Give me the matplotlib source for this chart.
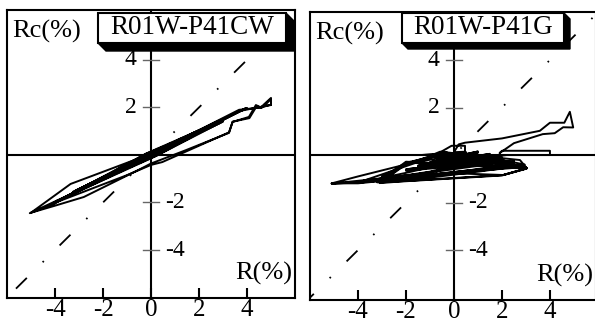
import matplotlib
matplotlib.use("Agg")
import matplotlib.pyplot as plt
from matplotlib.patches import Polygon, Rectangle

plt.rcParams['font.family'] = ['Liberation Serif', 'DejaVu Serif']
plt.rcParams['lines.scale_dashes'] = False

# specimen titles
titles = ["R01W-P41CW", "R01W-P41G"]
x_ticks = [-4, -2, 0, 2, 4]
y_ticks = [-4, -2, 2, 4]

# R01W-P41CW: drift R (%) vs Rc (%)
r_cw = [0.0, 0.5, -0.5, 0.5, -0.5, 1.0, 0.1, -1.0, -0.1, 1.0, -1.0,
        1.5, 0.1, -1.5, -0.1, 1.5, -1.5, 2.0, 0.1, -2.0, -0.1, 2.0, -2.0,
        2.5, 0.15, -2.6, -0.15, 2.7, -2.8, 3.0, 0.2, -3.1, -0.2, 3.0, -3.2,
        2.95, 0.1, -3.3, -0.1, 3.0, -3.25, 2.9, 0.2, -3.3, -0.2, 3.0, -3.1,
        2.95, -3.3, 3.0, -3.2, 3.95, 0.2, -4.05, -0.2, 3.92, -4.1, 4.0,
        0.1, -3.3, -4.02, -3.9, -4.1, -1.0, 0.0, 0.47, 3.25, 3.4, 4.1, 4.4,
        4.6, 4.75, 5.0, 5.0, 4.7, 3.7, 0.0, -2.45, -3.35, -5.0, -4.05, -2.8,
        -0.5, 0.0, 0.47, 1.45, 3.25, 3.4, 4.08, 4.37, 4.58, 4.7, 5.0, 5.0,
        4.6, 3.67, 0.0, -3.2, -5.05, -4.1, -3.4, -2.0, 0.0, 2.5, 2.8, 0.1,
        -3.0, -3.1, -0.1, 2.9, 2.0, 0.0]
rc_cw = [0.0, 0.25, -0.25, 0.24, -0.26, 0.5, 0.01, -0.5, -0.01, 0.48,
         -0.52, 0.74, 0.0, -0.74, -0.02, 0.72, -0.76, 0.98, -0.01, -0.98,
         0.0, 0.96, -1.0, 1.2, 0.0, -1.28, -0.02, 1.32, -1.36, 1.46, -0.04,
         -1.5, 0.05, 1.4, -1.58, 1.45, -0.06, -1.62, 0.05, 1.5, -1.55, 1.36,
         -0.05, -1.66, 0.06, 1.48, -1.48, 1.40, -1.62, 1.46, -1.54, 1.97, 0.0,
         -2.02, 0.0, 1.95, -2.05, 1.98, 0.02, -1.62, -2.0, -1.92, -2.05,
         -0.85, -0.42, -0.3, 0.95, 1.4, 1.55, 2.05, 1.98, 2.1, 2.35, 2.1,
         2.05, 1.85, 0.05, -0.88, -1.22, -2.43, -2.15, -1.77, -0.62, -0.36,
         -0.18, 0.2, 0.93, 1.39, 1.6, 2.1, 2.0, 2.12, 2.4, 2.12, 2.0, 1.9,
         0.02, -1.58, -2.45, -2.1, -1.68, -1.0, 0.0, 1.2, 1.36, -0.03, -1.48,
         -1.5, 0.03, 1.4, 0.95, 0.0]

# R01W-P41G: drift R (%) vs Rc (%)
r_g = [0.0, 0.5, -0.5, 0.5, -0.5, 1.0, -1.0, 1.0, -1.0, 1.5, -1.5, 1.5,
       -1.5, 2.0, -2.0, 2.0, -2.0, 2.5, -2.6, 3.0, 2.6, -1.9, -3.05, -2.2,
       2.05, 3.05, 2.6, -1.95, -3.1, -2.3, 2.0, 3.0, 2.5, -2.0, -3.1, -4.0,
       -5.1, -4.05, 0.1, 2.05, 3.04, 2.75, -0.58, -1.4, -2.1, -4.0, -5.05,
       -4.0, -0.3, -0.6, -0.1, 0.46, 0.46, 0.0, 0.2, 0.46, 2.0, 3.58, 4.0,
       4.6, 4.83, 4.97, 4.55, 4.2, 3.7, 2.5, 1.9, 2.0, 4.0, 4.0, 2.2, 1.4,
       -0.5, -2.0, -3.2, -5.1, -4.0, -1.0, 0.0, 1.5, 2.8, 1.0, -1.2, -3.0,
       -3.1, -1.5, 0.5, 2.0, 2.9, 2.4, -0.4, -2.0, -2.2, -3.0, -3.1, -1.0,
       1.0, 2.6, 3.0, 1.8, -0.8, -1.9, -2.1, -2.9, -3.2, -2.0, 0.2, 2.2,
       2.95, 2.2, -0.2, -1.3, -2.05, -2.8, -3.0, -1.5, 0.8, 2.5, 2.0, 0.0,
       -1.4, -0.5]
rc_g = [0.0, 0.12, -0.15, 0.1, -0.18, 0.15, -0.3, 0.1, -0.35, 0.05, -0.45,
        0.0, -0.5, -0.1, -0.6, -0.15, -0.66, -0.25, -0.95, -0.5, -0.55, -0.32,
        -1.15, -1.1, -0.84, -0.55, -0.52, -0.3, -1.18, -1.12, -0.86, -0.58,
        -0.5, -0.28, -1.1, -1.19, -1.19, -1.17, -0.77, -0.84, -0.56, -0.21,
        0.14, -0.2, -0.42, -0.9, -1.18, -1.16, 0.12, 0.1, 0.39, 0.39, 0.14,
        0.12, 0.45, 0.52, 0.7, 1.02, 1.36, 1.36, 1.82, 1.16, 1.17, 0.92, 0.88,
        0.5, 0.08, 0.18, 0.18, 0.0, 0.0, -0.1, -0.4, -0.75, -1.0, -1.2,
        -1.15, -0.7, -0.45, -0.25, -0.45, -0.6, -0.85, -1.1, -1.0, -0.8,
        -0.45, -0.3, -0.5, -0.42, -0.1, -0.36, -0.5, -0.9, -1.12, -0.95,
        -0.7, -0.48, -0.52, -0.36, -0.05, -0.3, -0.45, -0.85, -1.15, -1.0,
        -0.72, -0.48, -0.4, -0.25, 0.02, -0.15, -0.38, -0.8, -1.05, -0.9,
        -0.62, -0.4, -0.2, 0.05, 0.0, 0.05]

W, H = 595, 324
fig = plt.figure(figsize=(W / 100, H / 100), dpi=100)

# axes boxes in pixels: left, top, right, bottom
boxes = [(7, 10, 295, 298), (310, 12, 596, 300)]
ylims = [(-6.02, 6.1), (-6.1, 6.02)]
xlims = [(-6.0, 6.0), (-6.0, 5.92)]
series = [(r_cw, rc_cw), (r_g, rc_g)]
title_boxes = [(98, 13, 286, 43, 8), (402, 13, 564, 43, 6)]


def px_rect(x0, y0, x1, y1):
    return [x0 / W, 1 - y1 / H, (x1 - x0) / W, (y1 - y0) / H]


for i, ax_box in enumerate(boxes):
    ax = fig.add_axes(px_rect(*ax_box))
    ax.set_xlim(*xlims[i])
    ax.set_ylim(*ylims[i])
    for sp in ax.spines.values():
        sp.set_linewidth(1.5)
    ax.set_yticks([])
    ax.set_xticks(x_ticks)
    ax.set_xticklabels([str(t) for t in x_ticks], fontsize=18)
    ax.tick_params(axis='x', direction='in', length=7, width=1.5, pad=0.5)

    ax.axhline(0, color='black', lw=1.5, zorder=2)
    ax.axvline(0, color='black', lw=1.5, zorder=2)
    ax.plot([-7, 7], [-7, 7], color='black', lw=1.3,
            dashes=[1.2, 16, 11, 16], zorder=2)

    for t in y_ticks:
        ax.plot([-0.33, 0.33], [t, t], color='#666666', lw=1.0, zorder=2)
        if t > 0:
            ax.text(-0.6, t, str(t), ha='right', va='center', fontsize=17)
        else:
            ax.text(0.6, t, str(t), ha='left', va='center', fontsize=17)

    r, rc = series[i]
    ax.plot(r, rc, color='black', lw=1.4, zorder=3)

    ax.text(0.018, 0.925, "Rc(%)", transform=ax.transAxes, fontsize=19,
            ha='left', va='center')
    ax.text(0.99, 0.085, "R(%)", transform=ax.transAxes, fontsize=19,
            ha='right', va='center')

# title boxes with a 3D shadow
for (x0, y0, x1, y1, d), title in zip(title_boxes, titles):
    shadow = [(x1, y0), (x1 + d, y0 + d), (x1 + d, y1 + d), (x0 + d, y1 + d),
              (x0, y1)]
    fig.patches.append(Polygon([(x / W, 1 - y / H) for x, y in shadow],
                               closed=True, fc='black', ec='black',
                               transform=fig.transFigure, zorder=10))
    fig.patches.append(Rectangle((x0 / W, 1 - y1 / H), (x1 - x0) / W,
                                 (y1 - y0) / H, fc='white', ec='black', lw=1.5,
                                 transform=fig.transFigure, zorder=11))
    fig.text((x0 + x1) / 2 / W, 1 - (y0 + y1) / 2 / H, title, fontsize=19.5,
             ha='center', va='center', zorder=12)

fig.savefig("out.png", dpi=100)
